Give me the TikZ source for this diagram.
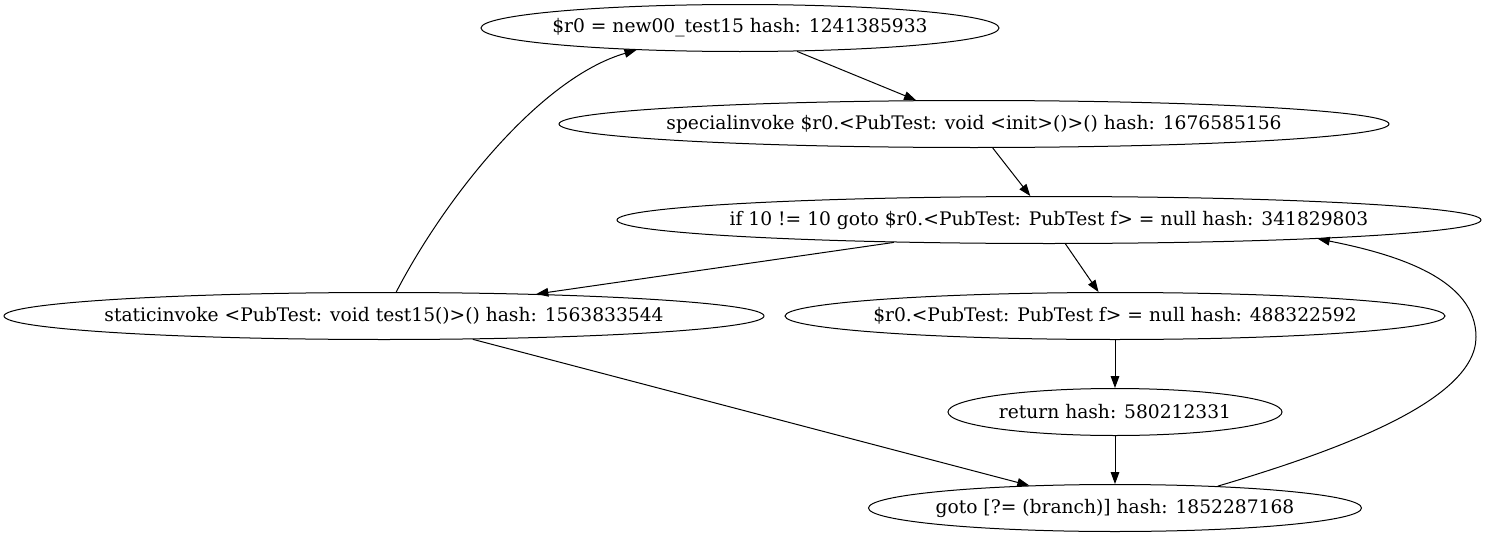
\documentclass[tikz,border=0pt]{standalone}
\usepackage{fontspec}
\setmainfont{DejaVu Serif}
\usetikzlibrary{shapes.geometric,arrows.meta}
% text takes no width, so the ellipse keeps its given size
\newcommand\stmttext[1]{\makebox[0pt]{#1}}

\begin{document}
\begin{tikzpicture}[x=0.75pt, y=-0.75pt, node distance=72pt,
		stmt/.style={draw, ellipse, inner sep=0pt, line width=0.75pt, minimum height=35.25pt, font=\fontsize{14pt}{17pt}\selectfont},
		flow/.style={-{Triangle[length=9pt,width=6.5pt]}, line width=0.75pt}]
		\useasboundingbox (0,0) rectangle (1486,539);
		% Nodes
		\node[stmt, minimum width=388.5pt] (new) at (740,28) {\stmttext{\$r0 = new00\_test15 hash: 1241385933}};
		\node[stmt, minimum width=622.5pt, below of=new, xshift=175.5pt] (special) {\stmttext{specialinvoke \$r0.<PubTest: void <init>()>() hash: 1676585156}};
		\node[stmt, minimum width=648pt, below of=special, xshift=56.25pt] (iff) {\stmttext{if 10 != 10 goto \$r0.<PubTest: PubTest f> = null hash: 341829803}};
		\node[stmt, minimum width=570pt, below of=iff, xshift=-498.75pt] (static) {\stmttext{staticinvoke <PubTest: void test15()>() hash: 1563833544}};
		\node[stmt, minimum width=495pt, below of=iff, xshift=49.5pt] (assign) {\stmttext{\$r0.<PubTest: PubTest f> = null hash: 488322592}};
		\node[stmt, minimum width=250.5pt, below of=assign] (ret) {\stmttext{return hash: 580212331}};
		\node[stmt, minimum width=369.75pt, below of=ret] (gotob) {\stmttext{goto [?= (branch)] hash: 1852287168}};

		% Arrows
		\draw[flow] (new) -- (special);
		\draw[flow] (special) -- (iff);
		\draw[flow] (iff) -- (static);
		\draw[flow] (iff) -- (assign);
		\draw[flow] (assign) -- (ret);
		\draw[flow] (ret) -- (gotob);
		\draw[flow] (static) -- (gotob);
		\draw[flow] (static.63) .. controls (445,198) and (540,78) .. (new.192);
		\draw[flow] (gotob.12) .. controls (1340,450) and (1476,400) .. (1476,337)
			.. controls (1476,280) and (1400,255) .. (iff.-4);
	\end{tikzpicture}
\end{document}
